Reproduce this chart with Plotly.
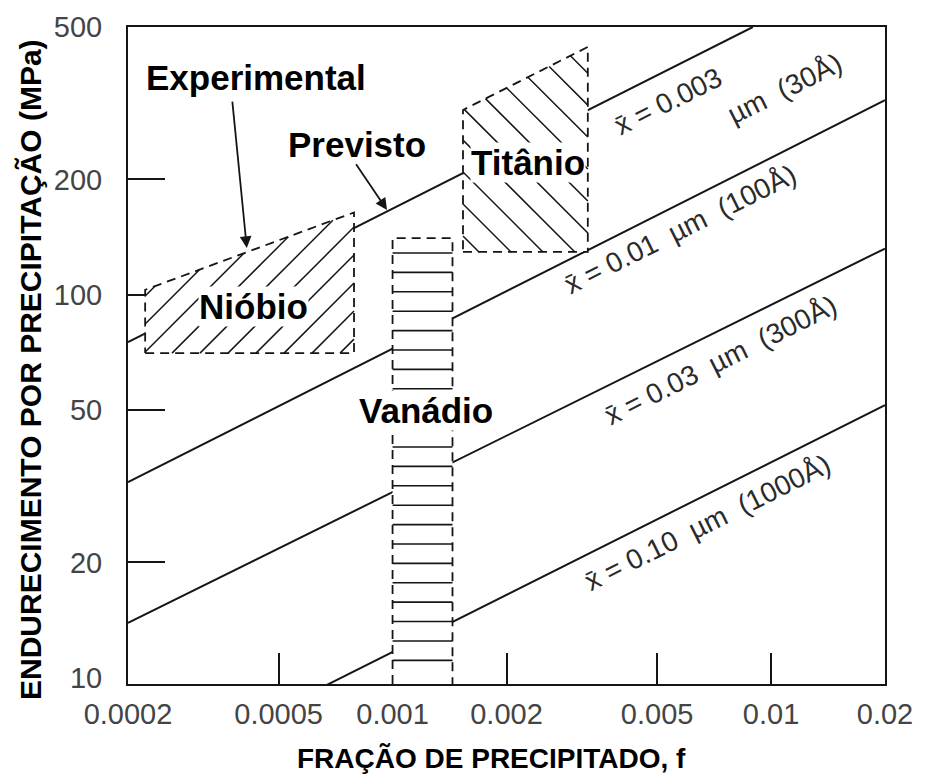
import numpy as np
import plotly.graph_objects as go

# ---------------------------------------------------------------- data
# axis extents: precipitate volume fraction f and strengthening (MPa)
F_RANGE = (0.0002, 0.02)
S_RANGE = (9.63, 500.0)

# predicted strengthening lines, one per mean particle size x̄ (µm)
line_sizes_um = ["0.003", "0.01", "0.03", "0.10"]
line_f = [[0.0002, 0.00895], [0.0002, 0.02], [0.0002, 0.02], [0.00066, 0.02]]
line_sigma = [[75.2, 500.0], [32.4, 322.0], [13.9, 132.0], [9.5, 51.5]]

# experimental bands (corner points, counter-clockwise)
nb_f = [0.000222, 0.000791, 0.000791, 0.000222]
nb_sigma = [70.4, 70.4, 164.0, 103.0]

v_f = [0.001, 0.00144, 0.00144, 0.001]
v_sigma = [9.5, 9.5, 140.6, 140.6]

ti_f = [0.001535, 0.00328, 0.00328, 0.001535]
ti_sigma = [129.3, 129.3, 443.5, 303.6]

# ticks
x_ticks = [0.0002, 0.0005, 0.001, 0.002, 0.005, 0.01, 0.02]
x_tick_text = ["0.0002", "0.0005", "0.001", "0.002", "0.005", "0.01", "0.02"]
x_marks = [0.0005, 0.002, 0.005, 0.01]
y_ticks = [10, 20, 50, 100, 200, 500]
y_tick_text = ["10", "20", "50", "100", "200", "500"]
y_marks = [20, 50, 100, 200]

# ---------------------------------------------------------------- layout
W, H = 934, 774
M = dict(l=128, r=49, t=27, b=90)
INK = "#151515"
FONT = "Liberation Sans, Arial, Helvetica, sans-serif"

plot_w = W - M["l"] - M["r"]
plot_h = H - M["t"] - M["b"]
kx = plot_w / (np.log10(F_RANGE[1]) - np.log10(F_RANGE[0]))  # px per decade
ky = plot_h / (np.log10(S_RANGE[1]) - np.log10(S_RANGE[0]))


def closed(v):
    return list(v) + [v[0]]


def hatch(poly_f, poly_s, angle_deg, spacing):
    """Parallel hatch lines (screen angle, px spacing) clipped to a convex polygon."""
    P = np.column_stack([np.log10(poly_f) * kx, np.log10(poly_s) * ky])
    a = np.radians(angle_deg)
    d = np.array([np.cos(a), np.sin(a)])
    n = np.array([-np.sin(a), np.cos(a)])
    proj = P @ n
    xs, ys = [], []
    c = proj.min() + spacing / 2
    while c < proj.max():
        hits = []
        for i in range(len(P)):
            A, B = P[i], P[(i + 1) % len(P)]
            ta, tb = A @ n - c, B @ n - c
            if ta != tb and ta * tb <= 0:
                hits.append(A + (B - A) * ta / (ta - tb))
        if len(hits) >= 2:
            hits.sort(key=lambda p: p @ d)
            for p in (hits[0], hits[-1]):
                xs.append(10 ** (p[0] / kx))
                ys.append(10 ** (p[1] / ky))
            xs.append(None)
            ys.append(None)
        c += spacing
    return xs, ys


fig = go.Figure()

# predicted lines
for f, s in zip(line_f, line_sigma):
    fig.add_trace(go.Scatter(x=f, y=s, mode="lines",
                             line=dict(color=INK, width=2), hoverinfo="skip"))

# white backgrounds of the bands (hide the lines behind them)
for bf, bs in [(nb_f, nb_sigma), (v_f, v_sigma), (ti_f, ti_sigma)]:
    fig.add_trace(go.Scatter(x=closed(bf), y=closed(bs), mode="none",
                             fill="toself", fillcolor="white", hoverinfo="skip"))

# hatching
hx, hy = hatch(nb_f, nb_sigma, 45, 19.8)
fig.add_trace(go.Scatter(x=hx, y=hy, mode="lines",
                         line=dict(color=INK, width=1.5), hoverinfo="skip"))
hx, hy = hatch(ti_f, ti_sigma, -45, 22.6)
fig.add_trace(go.Scatter(x=hx, y=hy, mode="lines",
                         line=dict(color=INK, width=1.5), hoverinfo="skip"))

# vanadium rungs
rx, ry = [], []
for s in np.geomspace(11.1, 128.5, 22):
    rx += [v_f[0], v_f[1], None]
    ry += [s, s, None]
fig.add_trace(go.Scatter(x=rx, y=ry, mode="lines",
                         line=dict(color=INK, width=1.6), hoverinfo="skip"))

# dashed outlines of the bands
for bf, bs in [(nb_f, nb_sigma), (v_f, v_sigma), (ti_f, ti_sigma)]:
    fig.add_trace(go.Scatter(x=closed(bf), y=closed(bs), mode="lines",
                             line=dict(color=INK, width=1.8, dash="9px,6px"),
                             hoverinfo="skip"))


def L(f, s):
    return np.log10(f), np.log10(s)


ann = []
bold = dict(family=FONT, size=35, color="#000")
for text, f, s, bg in [("Experimental", 0.000435, 370, None),
                       ("Previsto", 0.000805, 247, None),
                       ("Nióbio", 0.000428, 93.4, "white"),
                       ("Titânio", 0.00228, 222, "white"),
                       ("Vanádio", 0.001226, 50.0, "white")]:
    x, y = L(f, s)
    a = dict(x=x, y=y, xref="x", yref="y", text=f"<b>{text}</b>", showarrow=False,
             font=bold, xanchor="center", yanchor="middle")
    if bg:
        a.update(bgcolor=bg, borderpad=0)
    ann.append(a)

# arrows
for (f0, s0), (f1, s1) in [((0.000377, 322), (0.000412, 132.4)),
                           ((0.000796, 221), (0.000967, 166.4))]:
    x1, y1 = L(f1, s1)
    x0, y0 = L(f0, s0)
    ann.append(dict(x=x1, y=y1, ax=x0, ay=y0, xref="x", yref="y", axref="x", ayref="y",
                    text="", showarrow=True, arrowhead=2, arrowsize=1.3, arrowwidth=1.8,
                    arrowcolor=INK, standoff=0, startstandoff=0))

# size labels along the lines
lab = dict(family=FONT, size=28, color="#2a2a2a")
for text, f, s in [("x̄ = 0.003", 0.00534, 320),
                   ("µm  (30Å)", 0.01088, 346),
                   ("x̄ = 0.01  µm  (100Å)", 0.00575, 147.6),
                   ("x̄ = 0.03  µm  (300Å)", 0.00733, 67.5),
                   ("x̄ = 0.10  µm  (1000Å)", 0.00681, 25.5)]:
    x, y = L(f, s)
    ann.append(dict(x=x, y=y, xref="x", yref="y", text=text, showarrow=False,
                    textangle=-26.5, font=lab, xanchor="center", yanchor="middle"))

# axis titles
ann.append(dict(x=(30 - M["l"]) / plot_w, y=(H - M["b"] - 370) / plot_h,
                xref="paper", yref="paper", xanchor="center", yanchor="middle",
                text="<b>ENDURECIMENTO POR PRECIPITAÇÃO (MPa)</b>",
                textangle=-90, showarrow=False, font=dict(family=FONT, size=30, color="#000")))
ann.append(dict(x=(491 - M["l"]) / plot_w, y=(H - M["b"] - 758) / plot_h,
                xref="paper", yref="paper", xanchor="center", yanchor="middle",
                text="<b>FRAÇÃO DE PRECIPITADO, f</b>",
                showarrow=False, font=dict(family=FONT, size=28, color="#000")))

tickfont = dict(family=FONT, size=29, color="#444")
fig.update_xaxes(type="log", range=[np.log10(F_RANGE[0]), np.log10(F_RANGE[1])],
                 tickmode="array", tickvals=x_ticks, ticktext=x_tick_text, ticks="",
                 tickfont=tickfont, showgrid=False, zeroline=False,
                 showline=True, mirror=True, linecolor=INK, linewidth=2,
                 minor=dict(tickmode="array", tickvals=x_marks, ticks="inside",
                            ticklen=31, tickwidth=1.6, tickcolor=INK, showgrid=False),
                 layer="above traces", ticklabelstandoff=3, automargin=False)
fig.update_yaxes(type="log", range=[np.log10(S_RANGE[0]), np.log10(S_RANGE[1])],
                 tickmode="array", tickvals=y_ticks, ticktext=y_tick_text, ticks="",
                 tickfont=tickfont, showgrid=False, zeroline=False,
                 showline=True, mirror=True, linecolor=INK, linewidth=2,
                 minor=dict(tickmode="array", tickvals=y_marks, ticks="inside",
                            ticklen=37, tickwidth=1.6, tickcolor=INK, showgrid=False),
                 layer="below traces", ticklabelstandoff=18, automargin=False)

fig.update_layout(width=W, height=H, margin=dict(M, pad=0), showlegend=False,
                  paper_bgcolor="white", plot_bgcolor="white", annotations=ann)

fig.write_html("out.html")
